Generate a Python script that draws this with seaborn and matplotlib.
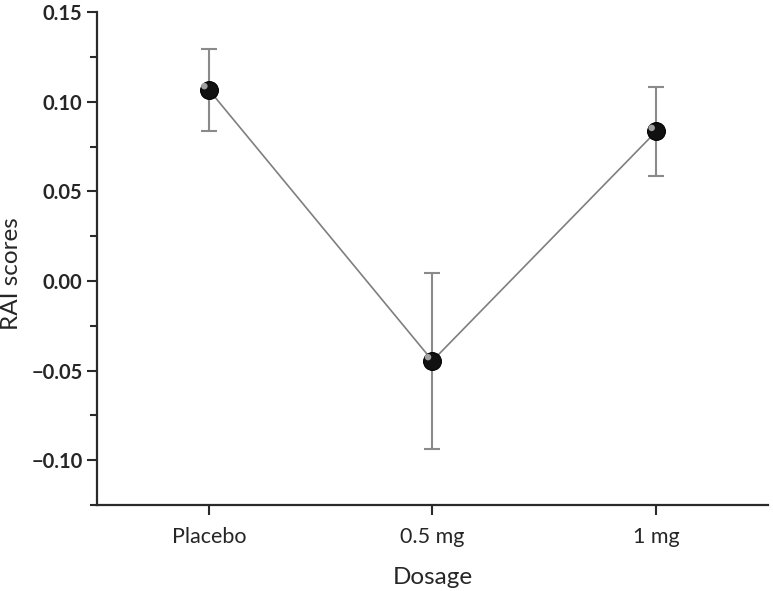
import matplotlib
matplotlib.use("Agg")
import matplotlib.pyplot as plt
import seaborn as sns
import pandas as pd
from matplotlib.ticker import MultipleLocator

# values
dosage = ["Placebo", "0.5 mg", "1 mg"]
rai_mean = [0.1067, -0.0445, 0.0834]
rai_err = [0.023, 0.049, 0.025]

df = pd.DataFrame({"Dosage": dosage, "RAI": rai_mean, "err": rai_err})
df["pos"] = range(len(df))

sns.set_theme(style="ticks")
plt.rcParams["font.family"] = ["Lato", "DejaVu Sans"]

fig = plt.figure(figsize=(7.73, 5.91), dpi=100)
ax = fig.add_axes([0.1255, 0.1455, 0.868, 0.834])

# connecting line
sns.lineplot(data=df, x="pos", y="RAI", color="#7f7f7f", linewidth=1.2, ax=ax, zorder=1)
# error bars
ax.errorbar(df["pos"], df["RAI"], yerr=df["err"], fmt="none", ecolor="#8a8a8a",
            elinewidth=1.5, capsize=6, capthick=1.5, zorder=2)
# black "spheres" with a small highlight
sns.scatterplot(data=df, x="pos", y="RAI", color="#111111", s=165, edgecolor="#000000",
                linewidth=0.8, ax=ax, zorder=3, legend=False)
ax.scatter(df["pos"] - 0.02, df["RAI"] + 0.002, s=22, color="#a0a0a0",
           edgecolor="none", zorder=4)

ax.set_xlim(-0.5, 2.5)
ax.set_ylim(-0.125, 0.15)
ax.set_xticks(df["pos"])
ax.set_xticklabels(dosage, fontsize=15.5)
ax.yaxis.set_minor_locator(MultipleLocator(0.025))
ax.set_yticks([0.15, 0.10, 0.05, 0.00, -0.05, -0.10])
ax.set_yticklabels(["0.15", "0.10", "0.05", "0.00", "\u22120.05", "\u22120.10"],
                   fontsize=14.5, fontweight="bold")

ax.set_xlabel("Dosage", fontsize=17.5, labelpad=14)
ax.set_ylabel("RAI scores", fontsize=17.5, va="center")
ax.yaxis.set_label_coords(-0.127, 0.47)

sns.despine(ax=ax)
for side in ["left", "bottom"]:
    ax.spines[side].set_color("#2a2a2a")
    ax.spines[side].set_linewidth(1.6)
ax.tick_params(axis="both", which="major", length=7, width=1.5, color="#2a2a2a")
ax.tick_params(axis="x", which="major", pad=9)
ax.tick_params(axis="y", which="minor", length=5, width=1.5, color="#2a2a2a")
ax.tick_params(axis="x", which="minor", length=0)

fig.savefig("out.png", dpi=100)
